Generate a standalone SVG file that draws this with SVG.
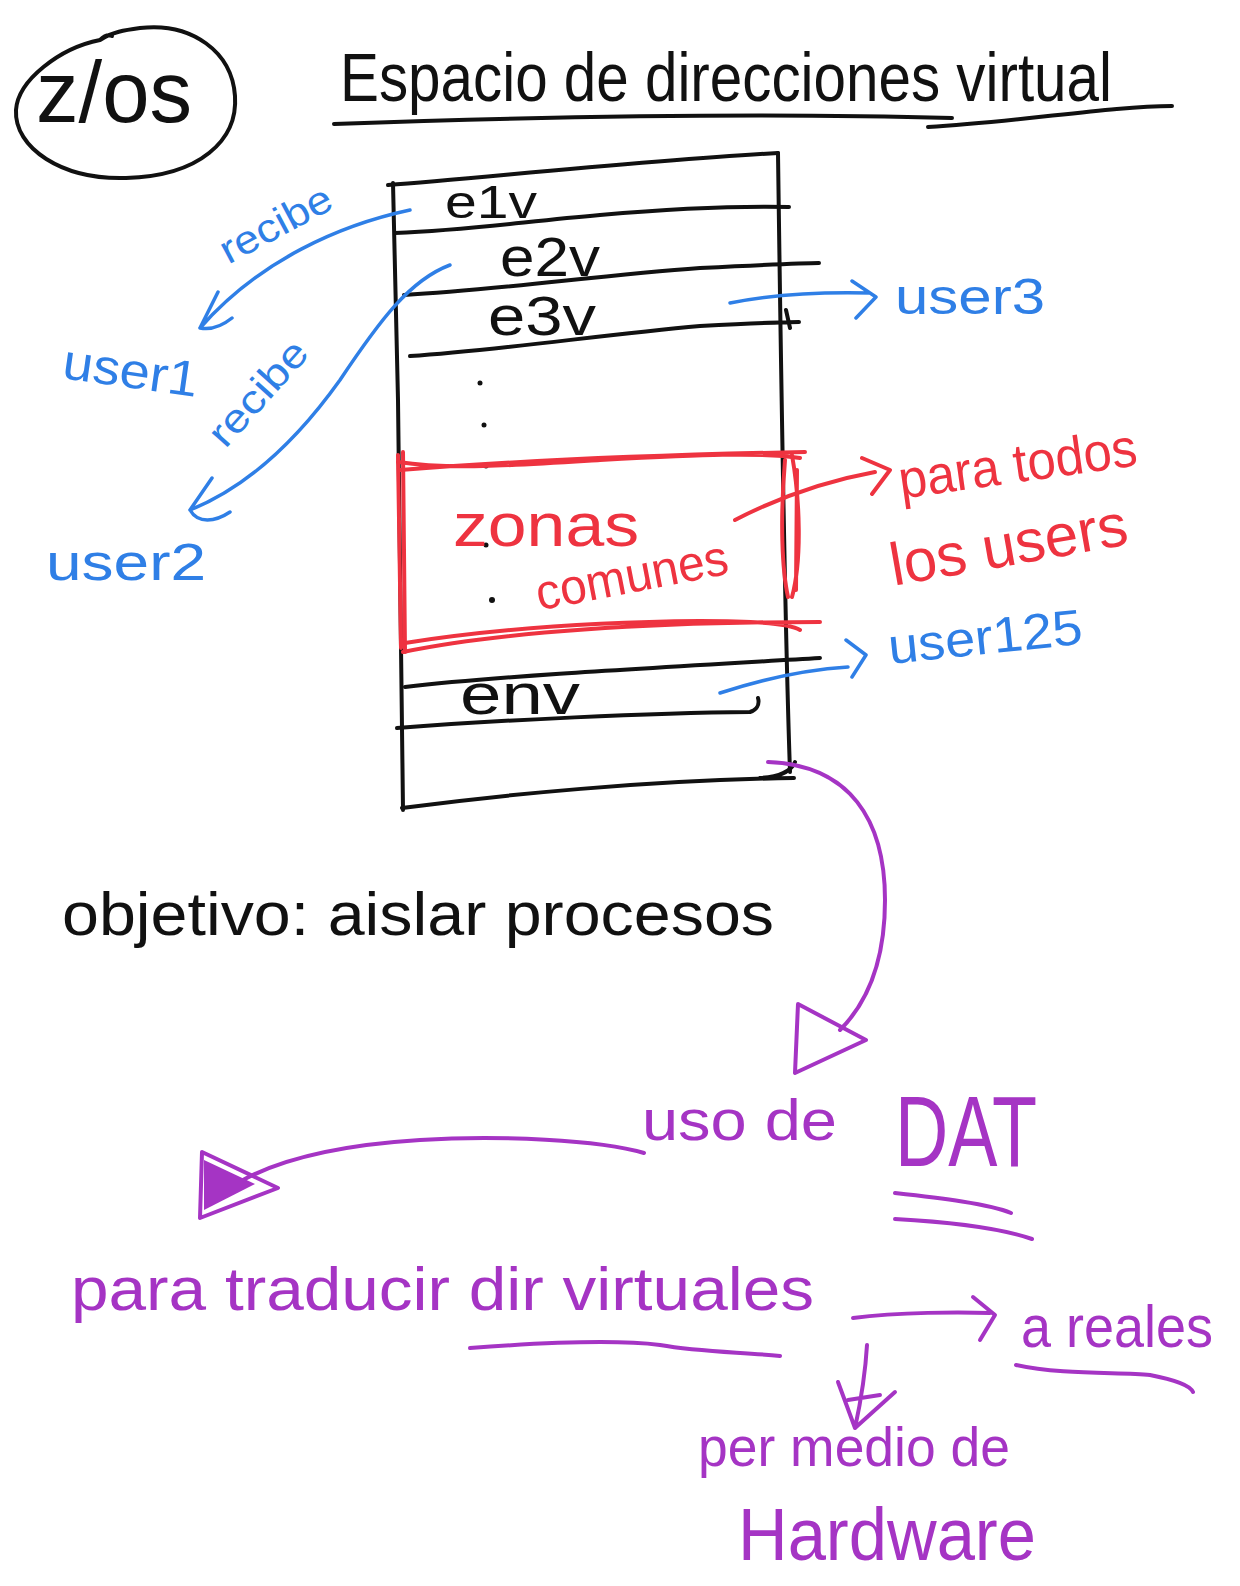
<svg xmlns="http://www.w3.org/2000/svg" width="1240" height="1586" viewBox="0 0 1240 1586">
<style>
.k{fill:none;stroke:#111;stroke-width:4;stroke-linecap:round;stroke-linejoin:round}
.b{fill:none;stroke:#2f7fe6;stroke-width:3.5;stroke-linecap:round;stroke-linejoin:round}
.r{fill:none;stroke:#ee3340;stroke-width:4;stroke-linecap:round;stroke-linejoin:round}
.p{fill:none;stroke:#a534c4;stroke-width:4;stroke-linecap:round;stroke-linejoin:round}
text{font-family:"Liberation Sans","DejaVu Sans",sans-serif;font-weight:normal}
.tk{fill:#111}.tb{fill:#2f7fe6}.tr{fill:#ee3340}.tp{fill:#a534c4}
</style>
<rect width="1240" height="1586" fill="#fff"/>

<g id="zos">
<path class="k" d="M100,40 C60,48 18,80 16,110 C14,148 62,180 126,178 C200,176 238,140 235,96 C232,52 192,22 140,28 C125,30 112,32 100,40 C104,36 108,34 112,36"/>
<text class="tk" x="36" y="122" font-size="88" textLength="156" lengthAdjust="spacingAndGlyphs">z/os</text>
</g>

<g id="title">
<text class="tk" x="340" y="101" font-size="68" textLength="772" lengthAdjust="spacingAndGlyphs">Espacio de direcciones virtual</text>
<path class="k" d="M334,124 C500,118 750,112 952,118 M928,127 C1020,122 1110,106 1172,106"/>
</g>

<g id="address-space">
<path class="k" d="M388,185 C480,178 650,160 778,153"/>
<path class="k" d="M778,153 C780,300 784,600 790,772"/>
<path class="k" d="M393,183 L398,400 L403,810"/>
<path class="k" d="M402,808 C500,795 650,780 794,778 M760,778 C775,777 790,774 795,762"/>
<path class="k" d="M395,233 C470,230 520,222 600,215 C680,208 740,206 789,207"/>
<path class="k" d="M404,295 C500,290 600,275 700,268 C760,265 800,263 819,263"/>
<path class="k" d="M410,356 C500,350 600,335 700,326 C760,323 790,322 799,322 M786,310 L790,328"/>
<path class="k" d="M405,687 C500,676 650,668 820,658"/>
<path class="k" d="M397,728 C500,720 650,713 750,712 C756,710 760,705 758,698"/>
<g fill="#111">
<circle cx="480" cy="383" r="2.5"/><circle cx="484" cy="425" r="2.5"/><circle cx="486" cy="466" r="2.5"/><circle cx="486" cy="545" r="2.5"/><circle cx="492" cy="600" r="3"/>
</g>
</g>

<g id="e1v"><text class="tk" x="445" y="218" font-size="46" textLength="92" lengthAdjust="spacingAndGlyphs">e1v</text></g>
<g id="e2v"><text class="tk" x="500" y="276" font-size="56" textLength="100" lengthAdjust="spacingAndGlyphs">e2v</text></g>
<g id="e3v"><text class="tk" x="488" y="335" font-size="56" textLength="108" lengthAdjust="spacingAndGlyphs">e3v</text></g>
<g id="env"><text class="tk" x="460" y="714" font-size="58" textLength="120" lengthAdjust="spacingAndGlyphs">env</text></g>

<g id="zonas-comunes">
<path class="r" d="M400,470 C500,462 650,455 805,452 M398,462 C450,470 520,465 600,460 C700,455 760,452 800,458"/>
<path class="r" d="M403,452 L405,652 M398,455 L401,648"/>
<path class="r" stroke-width="5" d="M792,455 C800,500 802,560 792,597 M785,460 C780,520 782,570 788,597 M797,470 L796,590"/>
<path class="r" d="M403,652 C500,632 650,622 820,622 M405,643 C500,628 600,622 700,621 C760,621 790,624 800,630"/>
<text class="tr" x="453" y="546" font-size="62" textLength="186" lengthAdjust="spacingAndGlyphs">zonas</text>
<text class="tr" transform="translate(635,592) rotate(-11)" x="0" y="0" text-anchor="middle" font-size="50" textLength="195" lengthAdjust="spacingAndGlyphs">comunes</text>
</g>

<g id="para-todos">
<text class="tr" transform="translate(1020,482) rotate(-8)" x="0" y="0" text-anchor="middle" font-size="54" textLength="240" lengthAdjust="spacingAndGlyphs">para todos</text>
<text class="tr" transform="translate(1012,565) rotate(-10)" x="0" y="0" text-anchor="middle" font-size="60" textLength="240" lengthAdjust="spacingAndGlyphs">los users</text>
</g>

<g id="user1"><text class="tb" transform="translate(61,378) rotate(8)" x="0" y="0" font-size="50" textLength="136" lengthAdjust="spacingAndGlyphs">user1</text></g>
<g id="user2"><text class="tb" x="46" y="580" font-size="52" textLength="160" lengthAdjust="spacingAndGlyphs">user2</text></g>
<g id="user3"><text class="tb" x="895" y="314" font-size="50" textLength="150" lengthAdjust="spacingAndGlyphs">user3</text></g>
<g id="user125"><text class="tb" transform="translate(890,664) rotate(-6)" x="0" y="0" font-size="50" textLength="195" lengthAdjust="spacingAndGlyphs">user125</text></g>
<g id="recibe-1"><text class="tb" transform="translate(282,236) rotate(-28)" x="0" y="0" text-anchor="middle" font-size="40" textLength="122" lengthAdjust="spacingAndGlyphs">recibe</text></g>
<g id="recibe-2"><text class="tb" transform="translate(268,402) rotate(-48)" x="0" y="0" text-anchor="middle" font-size="40" textLength="128" lengthAdjust="spacingAndGlyphs">recibe</text></g>

<g id="objetivo"><text class="tk" x="62" y="935" font-size="62" textLength="712" lengthAdjust="spacingAndGlyphs">objetivo: aislar procesos</text></g>

<g id="uso-de-dat">
<text class="tp" x="642" y="1140" font-size="58" textLength="195" lengthAdjust="spacingAndGlyphs">uso de</text>
<text class="tp" x="895" y="1166" font-size="100" textLength="142" lengthAdjust="spacingAndGlyphs">DAT</text>
<path class="p" d="M895,1193 C940,1198 990,1204 1011,1213 M895,1219 C950,1222 1000,1228 1032,1239"/>
</g>

<g id="para-traducir">
<text class="tp" x="71" y="1310" font-size="62" textLength="743" lengthAdjust="spacingAndGlyphs">para traducir dir virtuales</text>
<path class="p" d="M470,1348 C550,1342 620,1340 660,1345 C700,1352 740,1352 780,1356"/>
</g>

<g id="a-reales">
<text class="tp" x="1021" y="1347" font-size="60" textLength="192" lengthAdjust="spacingAndGlyphs">a reales</text>
<path class="p" d="M1016,1365 C1060,1375 1120,1372 1150,1375 C1175,1380 1190,1385 1193,1392"/>
</g>

<g id="hardware">
<text class="tp" x="698" y="1466" font-size="56" textLength="312" lengthAdjust="spacingAndGlyphs">per medio de</text>
<text class="tp" x="738" y="1560" font-size="74" textLength="298" lengthAdjust="spacingAndGlyphs">Hardware</text>
</g>

<g id="connectors">
<path class="b" d="M410,210 C340,225 260,260 200,328 M200,328 L218,292 M200,328 C210,330 222,326 232,318"/>
<path class="b" d="M450,265 C410,280 380,320 340,380 C290,450 240,490 190,510 M190,510 L212,478 M190,510 C198,524 215,522 230,512"/>
<path class="b" d="M730,303 C780,293 830,292 870,293 M852,281 L876,297 L856,318"/>
<path class="b" d="M720,693 C760,680 800,670 848,667 M846,640 L866,655 L852,677"/>
<path class="r" d="M735,520 C770,502 820,482 875,472 M862,458 L890,470 L872,494"/>
<path class="p" d="M768,762 C850,765 885,820 885,900 C885,965 865,1005 840,1030"/>
<path class="p" d="M798,1004 L866,1040 L795,1073 Z"/>
<path class="p" d="M644,1153 C600,1140 500,1135 420,1140 C340,1145 280,1160 243,1180"/>
<path class="p" d="M202,1152 L278,1188 L200,1218 Z"/>
<path fill="#a534c4" d="M204,1160 L255,1184 L204,1210 Z"/>
<path class="p" d="M853,1318 C900,1312 960,1312 990,1313 M973,1297 L995,1315 L980,1340"/>
<path class="p" d="M867,1345 C865,1380 860,1405 855,1428 M838,1382 L855,1428 L895,1392 M848,1400 L880,1395"/>
</g>
</svg>
